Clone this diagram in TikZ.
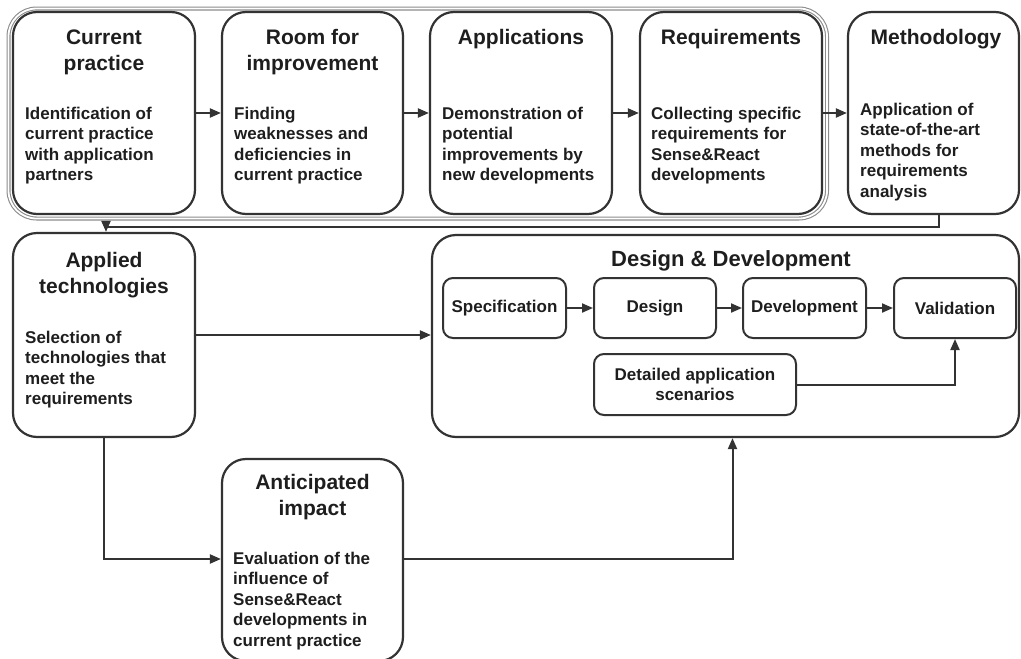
\documentclass[tikz,border=0pt]{standalone}
\usepackage{fontspec}
\setmainfont{Liberation Sans}
\usetikzlibrary{arrows.meta}
\definecolor{ink}{HTML}{333333}
\definecolor{txt}{HTML}{1E1E1E}
\definecolor{framegray}{HTML}{8C8C8C}
\newcommand\ttlfnt{\fontsize{21}{26}\selectfont\bfseries}
\newcommand\bodyfnt{\fontsize{17}{20.6}\selectfont\bfseries}
\begin{document}
\begin{tikzpicture}[x=1pt,y=-1pt,
  box/.style={draw=ink, line width=2.2pt, rounded corners=24pt, inner sep=0pt,
              minimum width=182pt, minimum height=202pt},
  stage/.style={draw=ink, line width=2pt, rounded corners=10pt, inner sep=0pt,
                minimum width=122pt, minimum height=60pt, font=\bodyfnt, text=txt, align=center},
  % multi-line texts are placed by the baseline of their last line
  ttl/.style={anchor=base, align=center, text=txt, font=\ttlfnt, inner sep=0pt},
  body/.style={anchor=base west, align=left, text=txt, font=\bodyfnt, inner sep=0pt},
  arr/.style={draw=ink, line width=2pt, -{Triangle[length=11pt,width=9pt]}},
]
\useasboundingbox (0,0) rectangle (1021,659);

% grouping frame around the first four stages
\draw[draw=framegray, line width=1.1pt, double=white, double distance=1.8pt,
      rounded corners=28pt] (8.5,8.5) rectangle (827,218.5);

% top row
\node[box] (cur) at (104,113) {};
\node[box, minimum width=181pt] (room) at (312.5,113) {};
\node[box] (app) at (521,113) {};
\node[box] (req) at (731,113) {};
\node[box, minimum width=171pt] (meth) at (933.5,113) {};

\node[ttl] (curT) at (104,70) {Current\\practice};
\node[body] (curB) at (25,180.8) {Identification of\\current practice\\with application\\partners};
\node[ttl] (roomT) at (312.5,70) {Room for\\improvement};
\node[body] (roomB) at (234,180.8) {Finding\\weaknesses and\\deficiencies in\\current practice};
\node[ttl] (appT) at (521,44) {Applications};
\node[body] (appB) at (442,180.8) {Demonstration of\\potential\\improvements by\\new developments};
\node[ttl] (reqT) at (731,44) {Requirements};
\node[body] (reqB) at (651,180.8) {Collecting specific\\requirements for\\Sense\&React\\developments};
\node[ttl] (methT) at (936,44) {Methodology};
\node[body] (methB) at (860,197.4) {Application of\\state-of-the-art\\methods for\\requirements\\analysis};

% applied technologies
\node[box, minimum height=204pt] (appl) at (104,335) {};
\node[ttl] (applT) at (104,293) {Applied\\technologies};
\node[body] (applB) at (25,404.8) {Selection of\\technologies that\\meet the\\requirements};

% design & development with its inner stages
\node[box, minimum width=587pt] (dd) at (725.5,336) {};
\node[ttl, font=\fontsize{22}{26}\selectfont\bfseries] (ddT) at (731,266) {Design \& Development};
\node[stage, minimum width=123pt] (spec) at (504.5,308) {Specification};
\node[stage] (des) at (655,308) {Design};
\node[stage, minimum width=123pt] (dev) at (804.5,308) {Development};
\node[stage] (val) at (955,308) {Validation};
\node[stage, minimum width=202pt, minimum height=61pt] (det) at (695,384.5) {Detailed application\\scenarios};

% anticipated impact (its lower edge runs along the border of the page)
\node[box, minimum width=181pt, minimum height=202pt] (ant) at (312.5,560) {};
\node[ttl] (antT) at (312.5,515) {Anticipated\\impact};
\node[body] (antB) at (233,646.4) {Evaluation of the\\influence of\\Sense\&React\\developments in\\current practice};

% connectors
\draw[arr] (cur.east) -- (room.west);
\draw[arr] (room.east) -- (app.west);
\draw[arr] (app.east) -- (req.west);
\draw[arr] (req.east) -- (meth.west);
\draw[arr] ([xshift=5pt]meth.south) -- ++(0,12) -| ([xshift=2pt]appl.north);
\draw[arr] (appl.east) -- (appl.east -| dd.west);
\draw[arr] (spec.east) -- (des.west);
\draw[arr] (des.east) -- (dev.west);
\draw[arr] (dev.east) -- (val.west);
\draw[arr] (det.east) -| (val.south);
\draw[arr] (appl.south) |- ([yshift=1pt]ant.west);
\draw[arr] ([yshift=1pt]ant.east) -| ([xshift=7pt]dd.south);
\end{tikzpicture}
\end{document}
